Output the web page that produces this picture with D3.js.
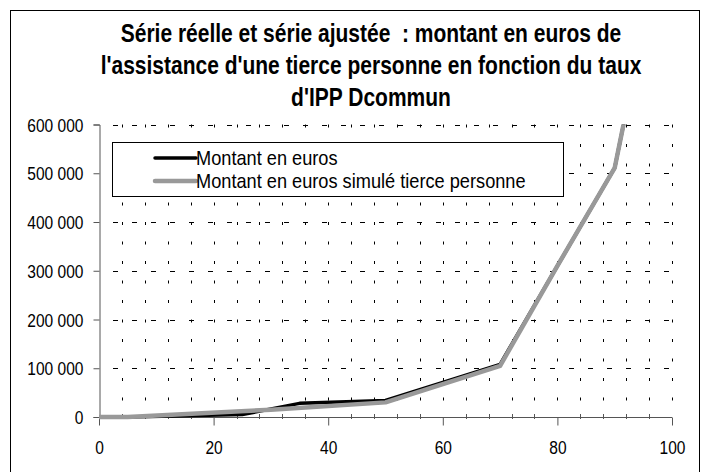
<!DOCTYPE html>
<html>
<head>
<meta charset="utf-8">
<script src="https://cdn.jsdelivr.net/npm/d3@7"></script>
<style>
  body { margin: 0; background: #fff; }
  svg text { font-family: "Liberation Sans", Arial, sans-serif; fill: #000; white-space: pre; }
</style>
</head>
<body>
<svg id="chart" width="709" height="472"></svg>
<script>
// title lines
let titleLines = [
  "Série réelle et série ajustée  : montant en euros de",
  "l'assistance d'une tierce personne en fonction du taux",
  "d'IPP Dcommun"
];

// series names
let seriesNames = ["Montant en euros", "Montant en euros simulé tierce personne"];

// taux d'IPP (x) and montants (y)
let tauxReel = [0, 5, 25, 35, 50, 70, 80, 90, 95];
let montantReel = [0, 0, 5000, 28000, 34000, 108000, 310000, 511000, 800000];

let tauxSimule = [0, 5, 30, 50, 70, 80, 90, 95];
let montantSimule = [0, 0, 15000, 30000, 105000, 310000, 511000, 800000];

let xTicks = [0, 20, 40, 60, 80, 100];
let yTicks = [0, 100000, 200000, 300000, 400000, 500000, 600000];

let svg = d3.select('#chart');

let plot = {left: 99, right: 672, top: 124.5, bottom: 417};
let narrow = 0.84; // squeeze Liberation Sans to look like Arial Narrow

let x = d3.scaleLinear().domain([0, 100]).range([plot.left, plot.right]);
let y = d3.scaleLinear().domain([0, 600000]).range([plot.bottom, plot.top]);

let fmt = v => v === 0 ? "0" : d3.format(",")(v).replace(/,/g, " ");

// outer frame
svg.append('rect')
  .attr('x', 10.5).attr('y', 10.5)
  .attr('width', 689).attr('height', 480)
  .style('fill', 'none')
  .style('stroke', '#000')
  .style('stroke-width', 1);

// title
let title = svg.append('g');
title.selectAll('text')
  .data(titleLines)
  .join('text')
  .attr('transform', (d, i) => `translate(371,${42 + i * 32}) scale(0.84,1)`)
  .attr('text-anchor', 'middle')
  .style('font-size', '25px')
  .style('font-weight', 'bold')
  .text(d => d);

let grid = svg.append('g');

// vertical dotted grid every 4 units
let xMinor = d3.range(4, 101, 4);
grid.selectAll('.vgrid')
  .data(xMinor)
  .join('line')
  .attr('class', 'vgrid')
  .attr('x1', d => Math.round(x(d)) + 0.5)
  .attr('x2', d => Math.round(x(d)) + 0.5)
  .attr('y1', plot.bottom)
  .attr('y2', plot.top)
  .style('stroke', '#000')
  .style('stroke-width', 1)
  .style('stroke-dasharray', '3 16.5')
  .style('stroke-dashoffset', 3);

// horizontal dashed grid on major y ticks
grid.selectAll('.hgrid')
  .data(yTicks.slice(1))
  .join('line')
  .attr('class', 'hgrid')
  .attr('x1', plot.left)
  .attr('x2', plot.right)
  .attr('y1', d => Math.round(y(d)) + 0.5)
  .attr('y2', d => Math.round(y(d)) + 0.5)
  .style('stroke', '#000')
  .style('stroke-width', 1)
  .style('stroke-dasharray', '5 14')
  .style('stroke-dashoffset', -14);

// y axis
let yAxis = svg.append('g')
  .attr('transform', `translate(${plot.left + 0.5},0)`)
  .call(d3.axisLeft(y).tickValues(yTicks).tickFormat(fmt).tickSize(6));
yAxis.select('.domain').attr('stroke', '#555');
yAxis.selectAll('.tick line').attr('stroke', '#555');
yAxis.selectAll('.tick text')
  .attr('x', null).attr('dy', null)
  .attr('transform', `translate(-16,6.5) scale(${narrow},1)`)
  .style('font-size', '18.5px').attr('fill', '#000');

// x axis
let xAxis = svg.append('g')
  .attr('transform', `translate(0,${plot.bottom + 0.5})`)
  .call(d3.axisBottom(x).tickValues(xTicks).tickSize(8));
xAxis.select('.domain').attr('stroke', '#555').attr('d', `M${plot.left},0H${plot.right}`);
xAxis.selectAll('.tick line').attr('stroke', '#555');
xAxis.selectAll('.tick text')
  .attr('y', null).attr('dy', null)
  .attr('transform', `translate(0,36) scale(${narrow},1)`)
  .style('font-size', '18.5px').attr('fill', '#000');

// minor ticks on x axis
svg.append('g').selectAll('line')
  .data(xMinor.filter(d => d % 20 !== 0))
  .join('line')
  .attr('x1', d => Math.round(x(d)) + 0.5)
  .attr('x2', d => Math.round(x(d)) + 0.5)
  .attr('y1', plot.bottom - 3)
  .attr('y2', plot.bottom + 2)
  .style('stroke', '#555');

// series
svg.append('clipPath').attr('id', 'clip')
  .append('rect')
  .attr('x', plot.left - 5).attr('y', plot.top)
  .attr('width', plot.right - plot.left + 10).attr('height', plot.bottom - plot.top + 5);

let line = d3.line().x(d => x(d[0])).y(d => y(d[1]));

let reel = d3.zip(tauxReel, montantReel);
let simule = d3.zip(tauxSimule, montantSimule);

let series = svg.append('g').attr('clip-path', 'url(#clip)');
series.append('path')
  .datum(reel)
  .attr('d', line)
  .style('fill', 'none')
  .style('stroke', '#000')
  .style('stroke-width', 3.5)
  .style('stroke-linejoin', 'round');
series.append('path')
  .datum(simule)
  .attr('d', line)
  .style('fill', 'none')
  .style('stroke', '#999')
  .style('stroke-width', 4.5)
  .style('stroke-linejoin', 'round');

// legend
let legend = svg.append('g');
legend.append('rect')
  .attr('x', 112.5).attr('y', 142.5)
  .attr('width', 451).attr('height', 54)
  .style('fill', '#fff')
  .style('stroke', '#000')
  .style('stroke-width', 1);

let legendRows = legend.selectAll('.row')
  .data(seriesNames)
  .join('g')
  .attr('class', 'row')
  .attr('transform', (d, i) => `translate(0,${158 + i * 23})`);

legendRows.append('line')
  .attr('x1', 155).attr('x2', 196)
  .attr('y1', 0).attr('y2', 0)
  .style('stroke', (d, i) => i === 0 ? '#000' : '#999')
  .style('stroke-width', (d, i) => i === 0 ? 3.5 : 4.5)
  .style('stroke-linecap', 'round');

legendRows.append('text')
  .attr('transform', 'translate(196,7) scale(0.91,1)')
  .style('font-size', '20px')
  .text(d => d);
</script>
</body>
</html>
